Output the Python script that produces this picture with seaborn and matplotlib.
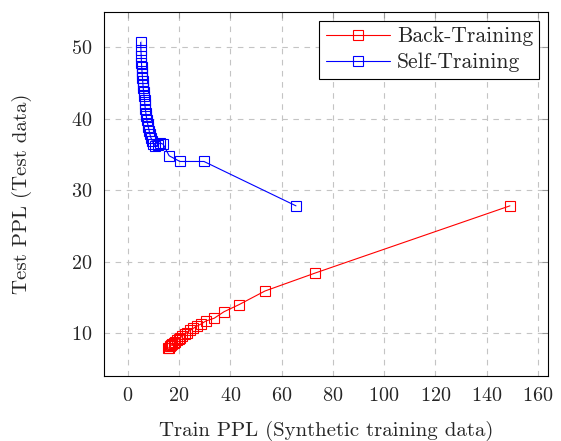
"""Back-Training vs Self-Training: train PPL against test PPL."""

import matplotlib as mpl
import matplotlib.pyplot as plt
import pandas as pd
import seaborn as sns

sns.set_style("white")
mpl.rcParams["font.family"] = ["cmr10", "DejaVu Serif"]
mpl.rcParams["mathtext.fontset"] = "cm"
mpl.rcParams["axes.formatter.use_mathtext"] = True

back_train = [149.1, 73.0, 53.5, 43.4, 37.5, 33.7, 30.4, 28.6, 27.0, 25.6, 24.3,
              23.2, 22.2, 21.3, 20.5, 19.8, 19.1, 18.5, 17.9, 17.4, 16.9, 16.5,
              16.1, 15.8]
back_test = [27.8, 18.4, 15.9, 14.0, 13.0, 12.1, 11.7, 11.3, 11.0, 10.7, 10.4,
             10.1, 9.9, 9.6, 9.4, 9.2, 9.0, 8.8, 8.6, 8.5, 8.3, 8.2, 8.0, 7.9]

self_train = [65.6, 29.7, 20.3, 16.1, 13.8, 12.6, 11.6, 10.6, 10.0, 9.5, 9.0,
              8.6, 8.3, 8.0, 7.7, 7.4, 7.2, 7.0, 6.8, 6.6, 6.5, 6.3, 6.2, 6.0,
              5.9, 5.8, 5.7, 5.6, 5.5, 5.4, 5.3, 5.2, 5.2, 5.1, 5.0, 5.0]
self_test = [27.8, 34.0, 34.0, 34.8, 36.4, 36.6, 36.3, 36.2, 36.5, 36.9, 37.3,
             37.8, 38.3, 38.8, 39.3, 39.8, 40.3, 40.8, 41.4, 42.0, 42.6, 43.2,
             43.7, 44.2, 44.7, 45.2, 45.7, 46.2, 46.7, 47.2, 47.8, 48.4, 49.0,
             49.6, 50.3, 51.0]

back_df = pd.DataFrame({"train": back_train, "test": back_test})
self_df = pd.DataFrame({"train": self_train, "test": self_test})

fig = plt.figure(figsize=(5.61, 4.41), dpi=100)
ax = fig.add_axes([0.185, 0.147, 0.792, 0.826])

style = dict(marker="s", markersize=7.5, mfc="none", linewidth=0.8,
             markeredgewidth=0.8, sort=False, ax=ax)
sns.lineplot(data=back_df, x="train", y="test", color="red", mec="red",
             label="Back-Training", **style)
sns.lineplot(data=self_df, x="train", y="test", color="blue", mec="blue",
             label="Self-Training", **style)

ax.set_xlim(-9.4, 164)
ax.set_ylim(4.0, 54.9)
ax.set_xticks(range(0, 161, 20))
ax.set_yticks([10, 20, 30, 40, 50])
ax.grid(True, linestyle=(0, (5, 5)), color="#c4c4c4", linewidth=0.8)
ax.tick_params(direction="in", top=True, right=True, length=4,
               color="#999999", labelsize=14.5, pad=8)
for s in ax.spines.values():
    s.set_color("black")
    s.set_linewidth(0.8)

ax.set_xlabel("Train PPL (Synthetic training data)", fontsize=15, labelpad=11)
ax.set_ylabel("Test PPL (Test data)", fontsize=15, labelpad=28)

leg = ax.legend(loc="upper right", fontsize=15.5, fancybox=False,
                edgecolor="black", framealpha=1, handlelength=3.0,
                handletextpad=0.3, borderaxespad=0.4, borderpad=0.3,
                labelspacing=0.3)
leg.get_frame().set_linewidth(0.8)

fig.savefig("out.png", dpi=100)
